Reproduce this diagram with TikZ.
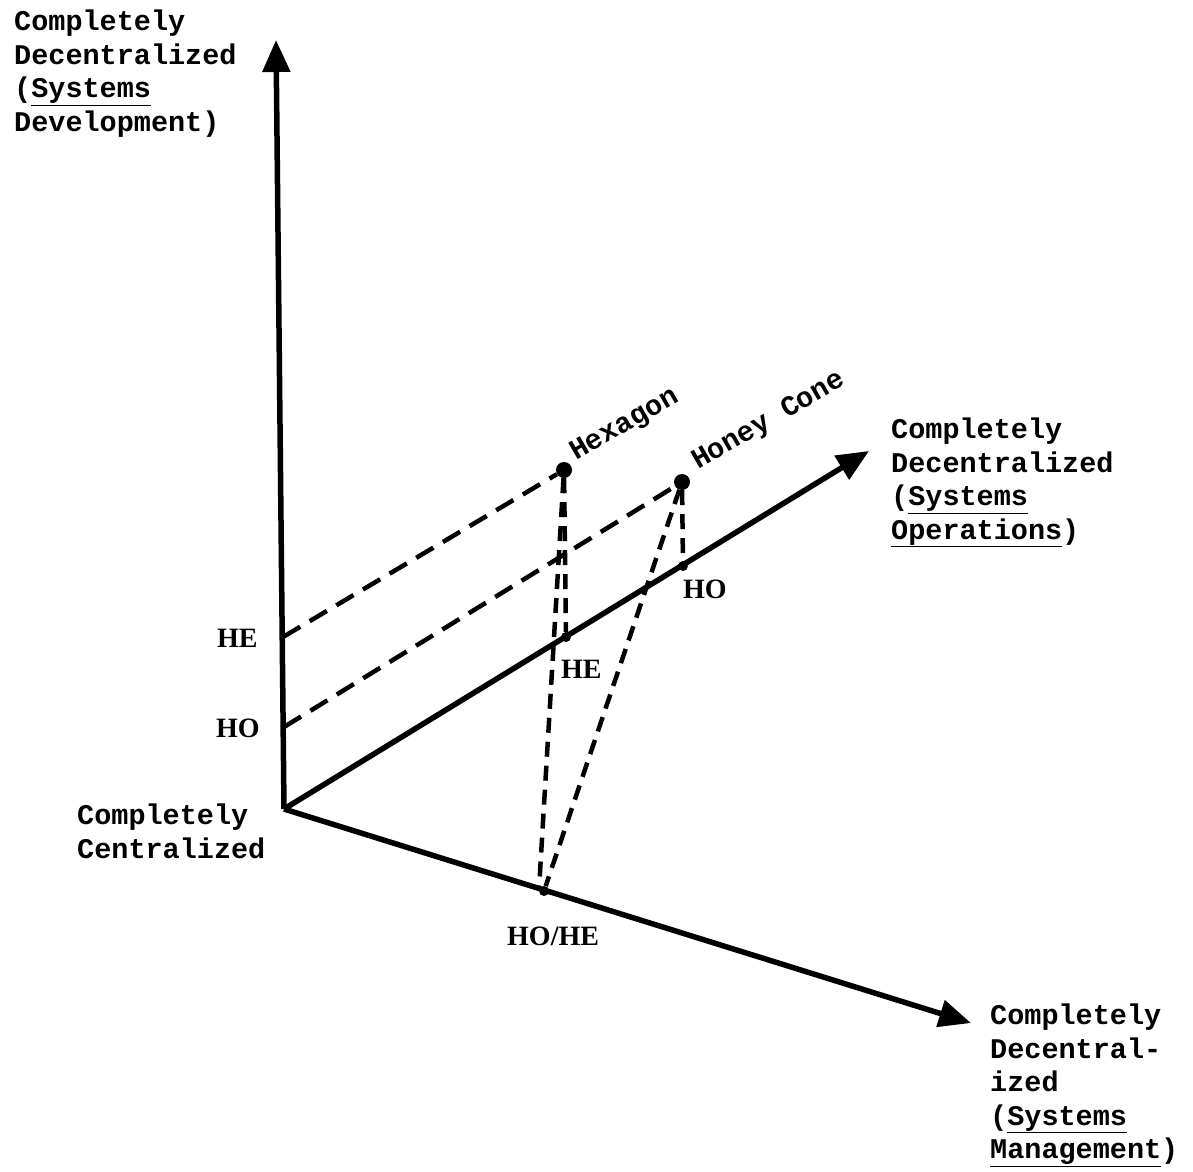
\documentclass[tikz,border=0pt]{standalone}
\usepackage{fontspec}
\setmonofont{Liberation Mono}
\newfontfamily\labelserif{Liberation Serif}
\usetikzlibrary{arrows.meta,calc}

\begin{document}
\begin{tikzpicture}[x=1pt,y=-1pt,
  axis/.style={line width=5.5pt, -{Triangle[length=32pt,width=27pt]}},
  guide/.style={line width=4.5pt, dash pattern=on 20pt off 11pt},
  drop/.style={line width=4.5pt, dash pattern=on 15pt off 9pt},
  axislabel/.style={font=\ttfamily\bfseries\fontsize{28.5}{33.5}\selectfont,
    align=left, inner sep=0pt, anchor=north west},
  pointlabel/.style={font=\labelserif\bfseries\fontsize{28}{32}\selectfont,
    inner sep=0pt, anchor=base west},
  pointname/.style={font=\ttfamily\bfseries\fontsize{28.5}{33.5}\selectfont,
    inner sep=0pt, anchor=base west, rotate=30},
  bigdot/.style={circle, fill, inner sep=0pt, minimum size=16pt},
  smalldot/.style={circle, fill, inner sep=0pt, minimum size=10pt}]

\useasboundingbox (0,0) rectangle (1193,1171);

% axes
\coordinate (O) at (284,809);
\coordinate (vtop) at (276,40);
\coordinate (optop) at (869,451);
\coordinate (mgtop) at (971,1023);
\draw[axis] (O) -- (vtop);
\draw[axis] (O) -- (optop);
\draw[axis] (O) -- (mgtop);

% points on the axes
\coordinate (hev) at (283,637);
\coordinate (hov) at (284,727);
\node[smalldot] (heop) at (566,637) {};
\node[smalldot] (hoop) at (683,566) {};
\node[smalldot] (homg) at (544,891) {};
\coordinate (homgw) at (539,889);

% the two configurations
\node[bigdot] (hexa) at (564,470) {};
\node[bigdot] (honey) at (682,482) {};

% projections
\draw[guide] (hev) -- (hexa);
\draw[guide] (hov) -- (honey);
\draw[drop] (hexa) -- (heop);
\draw[drop] (hexa) -- (homgw);
\draw[drop] (honey) -- (hoop);
\draw[drop] (honey) -- (homg);

% axis labels
\node[axislabel] (devlab) at (14,10)
  {Completely\\Decentralized\\(\underline{Systems}\\Development)};
\node[axislabel] (oplab) at (891,418)
  {Completely\\Decentralized\\(\underline{Systems}\\\underline{Operations})};
\node[axislabel] (mglab) at (990,1004)
  {Completely\\Decentral-\\ized\\(\underline{Systems}\\\underline{Management})};
\node[axislabel] (cenlab) at (77,804)
  {Completely\\Centralized};

% point labels
\node[pointlabel] (hevlab) at (217,647) {HE};
\node[pointlabel] (hovlab) at (216,737) {HO};
\node[pointlabel] (heoplab) at (561,678) {HE};
\node[pointlabel] (hooplab) at (683,598) {HO};
\node[pointlabel] (homglab) at (507,945) {HO/HE};

\node[pointname] (hexalab) at (576,461) {Hexagon};
\node[pointname] (honeylab) at (698,470) {Honey Cone};
\end{tikzpicture}
\end{document}
